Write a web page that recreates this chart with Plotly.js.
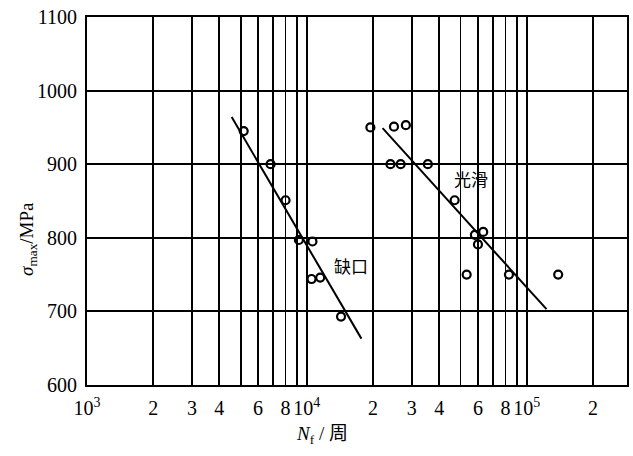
<!DOCTYPE html>
<html>
<head>
<meta charset="utf-8">
<script src="https://cdn.plot.ly/plotly-3.0.1.min.js"></script>
<style>html,body{margin:0;padding:0;background:#fff;}#chart{width:633px;height:456px;}</style>
</head>
<body>
<div id="chart"></div>
<script>
// Notched specimens (缺口)
const notchN = [5160, 6840, 8000, 9200, 10600, 10500, 11500, 14300];
const notchS = [945, 900, 851, 797, 795, 744, 746, 693];
const notchFitN = [4550, 17700];
const notchFitS = [964, 663];

// Smooth specimens (光滑)
const smoothN = [19450, 24900, 28200, 24000, 26700, 35500, 47000, 58100, 63400, 60000, 53300, 83000, 139000];
const smoothS = [950, 951, 953, 900, 900, 900, 851, 804, 808, 791, 750, 750, 750];
const smoothFitN = [22100, 123000];
const smoothFitS = [949, 703];

// Axis ticks: grid at every 1..9 multiple, labels only on some
const xTickVals = [1000,2000,3000,4000,5000,6000,7000,8000,9000,
                   10000,20000,30000,40000,50000,60000,70000,80000,90000,
                   100000,200000];
const xTickText = ['10<sup>3</sup>','2','3','4','','6','','8','',
                   '10<sup>4</sup>','2','3','4','','6','','8','',
                   '10<sup>5</sup>','2'];
const yTickVals = [600,700,800,900,1000,1100];
const yTickText = ['600','700','800','900','1000','1100'];

const labels = [
  {text:'缺口', n:15800, s:762},
  {text:'光滑', n:55700, s:881}
];

const markerStyle = {symbol:'circle-open', size:8, color:'#000', line:{width:2.2, color:'#000'}};

const traces = [
  {x:notchFitN, y:notchFitS, mode:'lines', line:{color:'#000', width:2}, hoverinfo:'skip'},
  {x:smoothFitN, y:smoothFitS, mode:'lines', line:{color:'#000', width:2}, hoverinfo:'skip'},
  {x:notchN, y:notchS, mode:'markers', marker:markerStyle},
  {x:smoothN, y:smoothS, mode:'markers', marker:markerStyle}
];

const tickFont = {family:'Liberation Serif, Times New Roman, serif', size:20, color:'#000'};

const annotations = labels.map(l => ({
  x: Math.log10(l.n), y: l.s, xref:'x', yref:'y', text:l.text, showarrow:false,
  font:{family:'Noto Sans CJK SC, sans-serif', size:17, color:'#000'}
}));
annotations.push({
  xref:'paper', yref:'paper', x:-0.108, y:0.396, textangle:-90,
  text:'<i>σ</i><sub>max</sub>/MPa', showarrow:false, xanchor:'center', yanchor:'middle',
  font:{family:'Liberation Serif, serif', size:19, color:'#000'}
});
annotations.push({
  xref:'paper', yref:'paper', x:0.435, y:-0.1285,
  text:'<i>N</i><sub>f</sub> / <span style="font-family:Noto Sans CJK SC">周</span>', showarrow:false, xanchor:'center', yanchor:'middle',
  font:{family:'Liberation Serif, serif', size:19, color:'#000'}
});

const layout = {
  width:633, height:456,
  margin:{l:87, r:6, t:17, b:71},
  paper_bgcolor:'#fff', plot_bgcolor:'#fff',
  showlegend:false,
  xaxis:{
    type:'log', range:[3, 5.456],
    tickmode:'array', tickvals:xTickVals, ticktext:xTickText,
    showgrid:true, gridcolor:'#000', gridwidth:1.8,
    showline:true, linecolor:'#000', linewidth:2, mirror:true,
    ticks:'', ticklabelstandoff:4, zeroline:false,
    tickfont:tickFont
  },
  yaxis:{
    range:[600, 1100],
    tickmode:'array', tickvals:yTickVals, ticktext:yTickText,
    showgrid:true, gridcolor:'#000', gridwidth:1.8,
    showline:true, linecolor:'#000', linewidth:2, mirror:true,
    ticks:'', ticklabelstandoff:4, zeroline:false,
    tickfont:tickFont
  },
  annotations:annotations
};

Plotly.newPlot('chart', traces, layout, {staticPlot:true, displayModeBar:false});
</script>
</body>
</html>
